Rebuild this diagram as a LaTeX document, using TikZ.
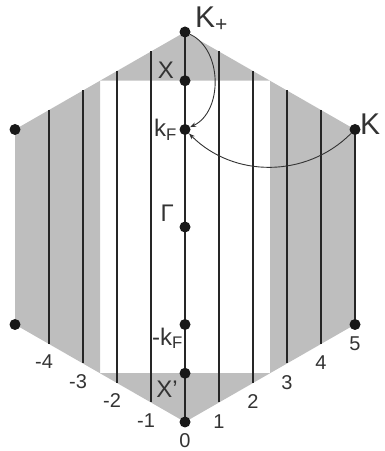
\documentclass[tikz,border=0pt]{standalone}
\usepackage{fontspec}
\setmainfont{Liberation Sans}
\usetikzlibrary{arrows.meta,positioning}
\definecolor{bandgray}{RGB}{190,190,190}
\tikzset{
  band/.style={fill=bandgray, draw=none},
  kline/.style={line width=2.6pt, draw=black!85},
  kdot/.style={circle, fill=black!90, inner sep=0pt, minimum size=11pt},
  biglbl/.style={font=\fontsize{30}{30}\selectfont, text=black!80, inner sep=0pt},
  symlbl/.style={font=\fontsize{24}{24}\selectfont, text=black!80, inner sep=0pt},
  numlbl/.style={font=\fontsize{20}{20}\selectfont, text=black!80, inner sep=0pt},
  hop/.style={-{Stealth[length=6pt,width=4.5pt]}, line width=0.9pt, draw=black!80}
}

\begin{document}
\begin{tikzpicture}[x=1pt,y=1pt]
  \useasboundingbox (0,0) rectangle (385,451);

  % hexagon corners
  \coordinate (top) at (185,419);
  \coordinate (ur) at (355,321.5);
  \coordinate (lr) at (355,126.5);
  \coordinate (bot) at (185,29);
  \coordinate (ll) at (15,126.5);
  \coordinate (ul) at (15,321.5);

  \fill[band, even odd rule] (top) -- (ur) -- (lr) -- (bot) -- (ll) -- (ul) -- cycle
    (100,77.75) rectangle (270,370.25);

  % allowed k lines
  \foreach \k in {-4,...,5} {
    \pgfmathsetmacro{\dy}{19.5*abs(\k)}
    \coordinate (t\k) at (185+34*\k, 419-\dy);
    \coordinate (b\k) at (185+34*\k, 29+\dy);
    \draw[kline] (t\k) -- (b\k);
  }

  \foreach \k in {0,...,5}
    \node[numlbl] (n\k) at ([yshift=-19pt]b\k) {\k};
  \foreach \k in {-4,...,-1}
    \node[numlbl] (n\k) at ([xshift=-5pt,yshift=-18pt]b\k) {\k};

  \node[kdot] (Kp) at (top) {};
  \node[kdot] (X) at (185,370.25) {};
  \node[kdot] (kF) at (185,321.5) {};
  \node[kdot] (G) at (185,224) {};
  \node[kdot] (mkF) at (185,126.5) {};
  \node[kdot] (Xp) at (185,77.75) {};
  \node[kdot] (O) at (bot) {};
  \node[kdot] (Kr) at (ur) {};
  \node[kdot] (Krb) at (lr) {};
  \node[kdot] (Kl) at (ul) {};
  \node[kdot] (Klb) at (ll) {};

  \node[biglbl, anchor=base west] (KpL) at ([xshift=10pt,yshift=4pt]Kp.center) {K\textsubscript{+}};
  \node[biglbl, anchor=base west] (KrL) at ([xshift=5pt,yshift=-5.5pt]Kr.center) {K};
  \node[symlbl] (XL) at ([xshift=-19pt,yshift=11pt]X.center) {X};
  \node[symlbl, anchor=base east] (kFL) at ([xshift=-8pt,yshift=-7.5pt]kF.center) {k\textsubscript{F}};
  \node[symlbl, anchor=base east] (GL) at ([xshift=-11pt,yshift=5pt]G.center) {Γ};
  \node[symlbl, anchor=base east] (mkFL) at ([xshift=-2pt,yshift=-20.5pt]mkF.center) {-k\textsubscript{F}};
  \node[symlbl, anchor=base east] (XpL) at ([xshift=-7pt,yshift=-24.75pt]Xp.center) {X'};

  \draw[hop] (Kp) to[bend left=65] (kF);
  \draw[hop] (Kr) to[bend left=45] (kF);
\end{tikzpicture}
\end{document}
